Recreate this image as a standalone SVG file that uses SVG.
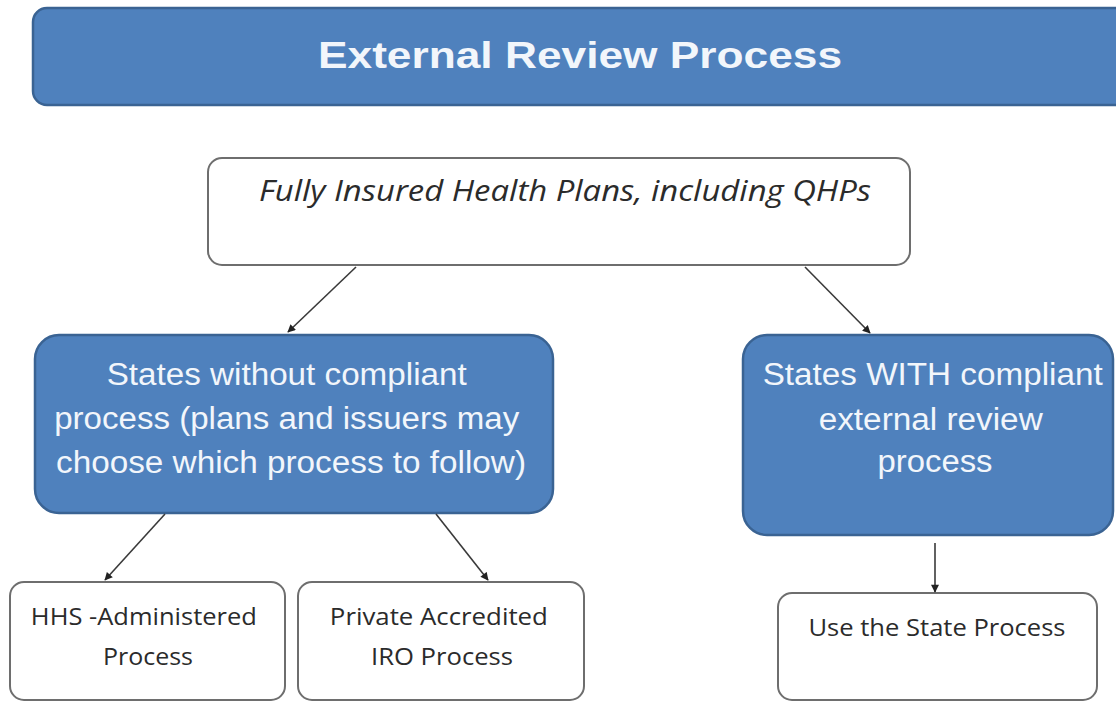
<svg xmlns="http://www.w3.org/2000/svg" width="1116" height="702" viewBox="0 0 1116 702">
<style>
.blue{fill:#4f81bd;stroke:#3a6393;stroke-width:2.5}
.white{fill:#ffffff;stroke:#6e6e6e;stroke-width:2}
.wt{font-family:"Liberation Sans",Arial,sans-serif;fill:#f2f6fb;text-anchor:middle}
.dt{font-family:"Open Sans","Noto Sans",sans-serif;fill:#2b2b2b;text-anchor:middle}
.conn{stroke:#3a3a3a;stroke-width:1.6;fill:none;marker-end:url(#ah)}
</style>
<defs>
<marker id="ah" viewBox="0 0 10 10" refX="9" refY="5" markerWidth="9" markerHeight="8" markerUnits="userSpaceOnUse" orient="auto">
<path d="M0,0 L10,5 L0,10 z" fill="#222222"/>
</marker>
</defs>
<rect width="1116" height="702" fill="#ffffff"/>
<g id="title">
<rect class="blue" x="33" y="8" width="1110" height="97" rx="14"/>
<text class="wt" x="580" y="68" font-size="37" font-weight="bold" textLength="524" lengthAdjust="spacingAndGlyphs">External Review Process</text>
</g>
<g id="fully-insured">
<rect class="white" x="208" y="158" width="702" height="107" rx="14"/>
<text class="dt" x="565" y="201" font-size="30" font-style="italic" textLength="612" lengthAdjust="spacingAndGlyphs">Fully Insured Health Plans, including QHPs</text>
</g>
<g id="states-without">
<rect class="blue" x="35" y="335" width="518" height="178" rx="24"/>
<text class="wt" font-size="31">
<tspan x="291" y="385" textLength="360" lengthAdjust="spacingAndGlyphs">States without compliant</tspan>
<tspan x="291" y="429" textLength="465" lengthAdjust="spacingAndGlyphs">process (plans and issuers may</tspan>
<tspan x="291" y="473" textLength="470" lengthAdjust="spacingAndGlyphs">choose which process to follow)</tspan>
</text>
</g>
<g id="states-with">
<rect class="blue" x="743" y="335" width="370" height="200" rx="24"/>
<text class="wt" font-size="31">
<tspan x="937" y="385" textLength="340" lengthAdjust="spacingAndGlyphs">States WITH compliant</tspan>
<tspan x="935" y="430" textLength="224" lengthAdjust="spacingAndGlyphs">external review</tspan>
<tspan x="935" y="472" textLength="115" lengthAdjust="spacingAndGlyphs">process</tspan>
</text>
</g>
<g id="hhs">
<rect class="white" x="10" y="582" width="275" height="118" rx="14"/>
<text class="dt" font-size="24">
<tspan x="147" y="625" textLength="226" lengthAdjust="spacingAndGlyphs">HHS -Administered</tspan>
<tspan x="148" y="665" textLength="90" lengthAdjust="spacingAndGlyphs">Process</tspan>
</text>
</g>
<g id="iro">
<rect class="white" x="298" y="582" width="286" height="118" rx="14"/>
<text class="dt" font-size="24">
<tspan x="442" y="625" textLength="218" lengthAdjust="spacingAndGlyphs">Private Accredited</tspan>
<tspan x="442" y="665" textLength="142" lengthAdjust="spacingAndGlyphs">IRO Process</tspan>
</text>
</g>
<g id="state-process">
<rect class="white" x="778" y="593" width="319" height="107" rx="14"/>
<text class="dt" x="937" y="636" font-size="24" textLength="257" lengthAdjust="spacingAndGlyphs">Use the State Process</text>
</g>
<g id="connectors">
<line class="conn" x1="356" y1="267" x2="288" y2="332"/>
<line class="conn" x1="805" y1="267" x2="870" y2="333"/>
<line class="conn" x1="165" y1="514" x2="105" y2="580"/>
<line class="conn" x1="436" y1="514" x2="488" y2="580" stroke-width="2.4"/>
<line class="conn" x1="935" y1="543" x2="935" y2="592"/>
</g>
</svg>
